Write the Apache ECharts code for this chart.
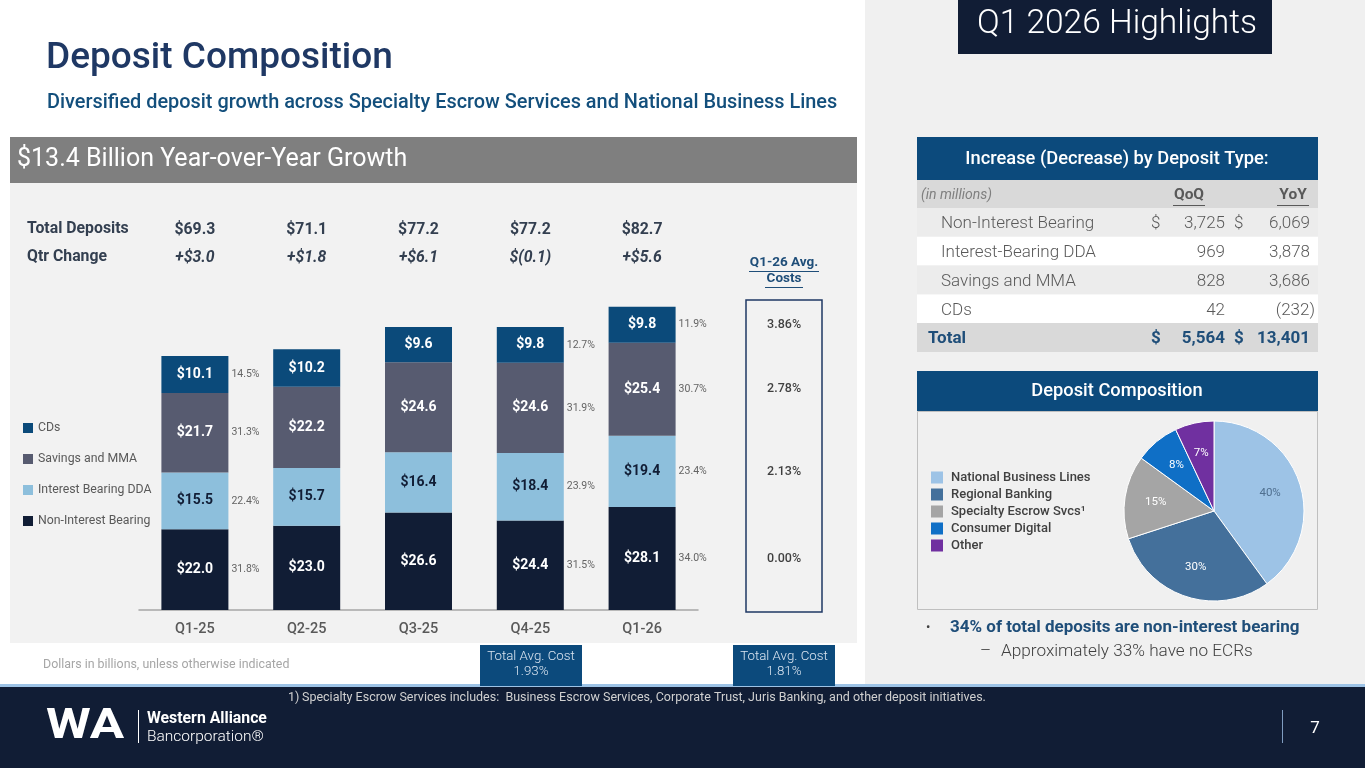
<!DOCTYPE html>
<html>
<head>
<meta charset="utf-8">
<script src="https://cdn.jsdelivr.net/npm/echarts@6/dist/echarts.min.js"></script>
<style>
html,body{margin:0;padding:0;background:#fff;}
#main{width:1365px;height:768px;}
</style>
</head>
<body>
<div id="main"></div>
<script>
// 季度存款构成 (十亿美元)
const quarters = ['Q1-25', 'Q2-25', 'Q3-25', 'Q4-25', 'Q1-26'];
const nonInterest = [22.0, 23.0, 26.6, 24.4, 28.1];
const interestDDA = [15.5, 15.7, 16.4, 18.4, 19.4];
const savingsMMA = [21.7, 22.2, 24.6, 24.6, 25.4];
const cds = [10.1, 10.2, 9.6, 9.8, 9.8];
const totalDeposits = ['$69.3', '$71.1', '$77.2', '$77.2', '$82.7'];
const qtrChange = ['+$3.0', '+$1.8', '+$6.1', '$(0.1)', '+$5.6'];
// 占比，只在 Q1-25 / Q4-25 / Q1-26 显示
const pctNonInterest = ['31.8%', '', '', '31.5%', '34.0%'];
const pctDDA = ['22.4%', '', '', '23.9%', '23.4%'];
const pctSavings = ['31.3%', '', '', '31.9%', '30.7%'];
const pctCDs = ['14.5%', '', '', '12.7%', '11.9%'];
// Q1-26 平均成本，顺序同堆叠 (自下而上)
const avgCost = ['0.00%', '2.13%', '2.78%', '3.86%'];

// 右侧表格 (百万美元)
const tableRows = ['Non-Interest Bearing', 'Interest-Bearing DDA', 'Savings and MMA', 'CDs'];
const qoq = [3725, 969, 828, 42];
const yoy = [6069, 3878, 3686, -232];
const qoqTotal = 5564;
const yoyTotal = 13401;

// 饼图
const segNames = ['National Business Lines', 'Regional Banking', 'Specialty Escrow Svcs\u00b9', 'Consumer Digital', 'Other'];
const segShare = [40, 30, 15, 8, 7];

const FONT = 'Roboto, "Noto Sans", sans-serif';
const NAVY = '#111d35';
const BLUE = '#0c4a7c';

const stacks = [nonInterest, interestDDA, savingsMMA, cds];
const pcts = [pctNonInterest, pctDDA, pctSavings, pctCDs];
//每段中点，用于放置旁边的百分比
const mid = (s, i) => {
    let base = 0;
    for (let k = 0; k < s; k++) base += stacks[k][i];
    return base + stacks[s][i] / 2;
};
const fmt = n => n < 0 ? '(' + Math.abs(n).toLocaleString('en-US') + ')' : n.toLocaleString('en-US');

const txt = (x, y, text, o = {}) => ({
    type: 'text',
    z: o.z || 5,
    style: {
        x: x, y: y, text: text,
        fill: o.color || '#404040',
        fontSize: o.size || 14,
        fontWeight: o.weight || 'normal',
        fontStyle: o.italic ? 'italic' : 'normal',
        fontFamily: FONT,
        textAlign: o.align || 'left',
        textVerticalAlign: 'middle'
    }
});
const rect = (x, y, w, h, fill, o = {}) => ({
    type: 'rect',
    z: o.z || 0,
    shape: {x: x, y: y, width: w, height: h},
    style: {fill: fill, stroke: o.stroke || null, lineWidth: o.lw || 0}
});
const line = (x1, y1, x2, y2, color, w) => ({
    type: 'line',
    z: 5,
    shape: {x1: x1, y1: y1, x2: x2, y2: y2},
    style: {stroke: color, lineWidth: w || 1}
});

let g = [];
/*背景和标题*/
g.push(rect(865, 0, 500, 685, '#f0f0f0'));
g.push(txt(46, 59, 'Deposit Composition', {size: 37, weight: 500, color: '#1f3864'}));
g.push(txt(47, 103, 'Diversified deposit growth across Specialty Escrow Services and National Business Lines', {size: 19.9, weight: 500, color: '#134f7c'}));
g.push(rect(958, 0, 314, 54, NAVY));
g.push(txt(1117, 25, 'Q1 2026 Highlights', {size: 33.5, weight: 300, color: '#fff', align: 'center'}));

/*左侧面板*/
g.push(rect(10, 137, 847, 46, '#7f7f7f'));
g.push(txt(17, 160, '$13.4 Billion Year-over-Year Growth', {size: 25, color: '#fff'}));
g.push(rect(10, 183, 847, 460, '#f2f2f2'));
g.push(txt(27, 229, 'Total Deposits', {size: 15.8, weight: 'bold', color: '#333f50'}));
g.push(txt(27, 257, 'Qtr Change', {size: 15.8, weight: 'bold', color: '#333f50'}));
g.push(txt(784, 263, 'Q1-26 Avg.', {size: 13.5, weight: 'bold', color: '#1f4e79', align: 'center'}));
g.push(txt(784, 279, 'Costs', {size: 13.5, weight: 'bold', color: '#1f4e79', align: 'center'}));
g.push(line(749, 271.5, 819, 271.5, '#1f4e79', 1));
g.push(line(765, 287.5, 803, 287.5, '#1f4e79', 1));
g.push(rect(746, 300, 76, 312, 'none', {stroke: '#1f3864', lw: 1.5, z: 3}));
g.push(txt(43, 665, 'Dollars in billions, unless otherwise indicated', {size: 12.4, color: '#a6a6a6'}));

/*页脚*/
g.push(rect(0, 684, 1365, 3, '#9dc3e6'));
g.push(rect(0, 687, 1365, 81, NAVY));
[[480, '1.93%'], [733, '1.81%']].forEach(b => {
    g.push(rect(b[0], 645, 102, 41, BLUE, {z: 2}));
    g.push(txt(b[0] + 51, 657, 'Total Avg. Cost', {size: 13.3, weight: 300, color: '#dbe5f1', align: 'center'}));
    g.push(txt(b[0] + 51, 672, b[1], {size: 13.3, weight: 300, color: '#dbe5f1', align: 'center'}));
});
g.push(txt(288, 698, '1)', {size: 12.5, color: '#d0d0d0'}));
g.push(txt(302, 698, 'Specialty Escrow Services includes:  Business Escrow Services, Corporate Trust, Juris Banking, and other deposit initiatives.', {size: 12.5, color: '#d0d0d0'}));
let logo = txt(46, 727, 'WA', {size: 42, weight: 'bold', color: '#fff'});
logo.scaleX = 1.22;
logo.originX = 46;
g.push(logo);
g.push(line(138.5, 710, 138.5, 743, '#fff', 1));
g.push(txt(147, 719, 'Western Alliance', {size: 15.8, weight: 'bold', color: '#fff'}));
g.push(txt(147, 737, 'Bancorporation\u00ae', {size: 15.5, weight: 300, color: '#fff'}));
g.push(line(1282.5, 710, 1282.5, 743, '#7f9cc0', 1));
g.push(txt(1315, 729, '7', {size: 17, color: '#fff', align: 'center'}));

/*右侧表格*/
g.push(rect(917, 137, 401, 43, BLUE));
g.push(txt(1117, 159, 'Increase (Decrease) by Deposit Type:', {size: 18.3, weight: 500, color: '#fff', align: 'center'}));
g.push(rect(917, 180, 401, 28, '#d9d9d9'));
g.push(txt(921, 195, '(in millions)', {size: 14, italic: true, color: '#7f7f7f'}));
g.push(txt(1189, 195, 'QoQ', {size: 15.5, weight: 'bold', color: '#595959', align: 'center'}));
g.push(txt(1293, 195, 'YoY', {size: 15.5, weight: 'bold', color: '#595959', align: 'center'}));
g.push(line(1173, 205.5, 1205, 205.5, '#595959', 1));
g.push(line(1277, 205.5, 1309, 205.5, '#595959', 1));
tableRows.forEach((name, i) => {
    let y0 = 208 + i * 28.8;
    g.push(rect(917, y0, 401, 28.8, i % 2 ? '#ffffff' : '#ececec'));
    let yc = y0 + 16;
    g.push(txt(941, yc, name, {size: 17, weight: 300, color: '#595959'}));
    if (i === 0) {
        g.push(txt(1151, yc, '$', {size: 17, weight: 300, color: '#595959'}));
        g.push(txt(1234, yc, '$', {size: 17, weight: 300, color: '#595959'}));
    }
    g.push(txt(1225, yc, fmt(qoq[i]), {size: 17, weight: 300, color: '#595959', align: 'right'}));
    g.push(txt(yoy[i] < 0 ? 1315 : 1310, yc, fmt(yoy[i]), {size: 17, weight: 300, color: '#595959', align: 'right'}));
});
g.push(rect(917, 323, 401, 29, '#d9d9d9'));
g.push(txt(928, 339, 'Total', {size: 17, weight: 'bold', color: '#1f4e79'}));
g.push(txt(1151, 339, '$', {size: 17, weight: 'bold', color: '#1f4e79'}));
g.push(txt(1225, 339, fmt(qoqTotal), {size: 17, weight: 'bold', color: '#1f4e79', align: 'right'}));
g.push(txt(1234, 339, '$', {size: 17, weight: 'bold', color: '#1f4e79'}));
g.push(txt(1310, 339, fmt(yoyTotal), {size: 17, weight: 'bold', color: '#1f4e79', align: 'right'}));

/*饼图面板*/
g.push(rect(917, 371, 401, 40, BLUE));
g.push(txt(1117, 391, 'Deposit Composition', {size: 18.3, weight: 500, color: '#fff', align: 'center'}));
g.push(rect(917.5, 411.5, 400, 198, '#f0f0f0', {stroke: '#bfbfbf', lw: 1}));
g.push(txt(926, 628, '\u2022', {size: 13, color: '#404040'}));
g.push(txt(950, 628, '34% of total deposits are non-interest bearing', {size: 17, weight: 'bold', color: '#1f4e79'}));
g.push(txt(980, 652, '\u2013', {size: 17, weight: 300, color: '#404040'}));
g.push(txt(1001, 652, 'Approximately 33% have no ECRs', {size: 17.2, weight: 300, color: '#404040'}));

const segColors = [NAVY, '#8dbfdc', '#575b70', '#0b4a7a'];
const segLabels = ['Non-Interest Bearing', 'Interest Bearing DDA', 'Savings and MMA', 'CDs'];
const labelColors = ['#fff', NAVY, '#fff', '#fff'];

let series = stacks.map((arr, s) => ({
    name: segLabels[s],
    type: 'bar',
    stack: 'dep',
    barWidth: 67,
    data: arr,
    itemStyle: {color: segColors[s]},
    label: {
        show: true,
        position: 'inside',
        formatter: p => '$' + p.value.toFixed(1),
        color: labelColors[s],
        fontSize: 14,
        fontWeight: 'bold',
        fontFamily: FONT
    }
}));
//柱子右侧的占比
series.push({
    type: 'scatter',
    silent: true,
    symbolSize: 1,
    itemStyle: {color: 'transparent'},
    data: [].concat(...pcts.map((arr, s) => arr.map((p, i) => ({value: [i, mid(s, i)], pct: p})).filter(d => d.pct))),
    label: {
        show: true,
        position: 'right',
        distance: 36,
        formatter: p => p.data.pct,
        fontSize: 10.5,
        color: '#404040',
        fontFamily: FONT
    }
});
//Q1-26 平均成本
series.push({
    type: 'scatter',
    silent: true,
    symbolSize: 1,
    itemStyle: {color: 'transparent'},
    data: avgCost.map((c, s) => ({value: [4, mid(s, 4)], cost: c})),
    label: {
        show: true,
        position: 'inside',
        offset: [142, 0],
        formatter: p => p.data.cost,
        fontSize: 12.5,
        fontWeight: 500,
        color: '#111',
        fontFamily: FONT
    }
});
const pieData = segNames.map((n, i) => ({name: n, value: segShare[i]}));
series.push({
    name: 'composition',
    type: 'pie',
    center: [1214, 511],
    radius: 90,
    startAngle: 90,
    data: pieData,
    color: ['#9dc3e6', '#44709b', '#a5a5a5', '#0f6fc6', '#7030a0'],
    itemStyle: {borderColor: '#fff', borderWidth: 1},
    label: {show: false},
    labelLine: {show: false}
});
//只放标签的透明饼，使百分比离圆心更远
series.push({
    type: 'pie',
    silent: true,
    center: [1214, 511],
    radius: 112,
    startAngle: 90,
    data: pieData.map((d, i) => ({
        name: d.name, value: d.value,
        label: {color: i === 0 ? '#4f6f8f' : '#fff'}
    })),
    itemStyle: {color: 'transparent'},
    label: {position: 'inside', formatter: '{c}%', fontSize: 11.5, fontFamily: FONT},
    labelLine: {show: false}
});

let option = {
    animation: false,
    backgroundColor: '#fff',
    textStyle: {fontFamily: FONT},
    graphic: g,
    legend: [{
        orient: 'vertical',
        left: 18,
        top: 417,
        itemWidth: 10,
        itemHeight: 10,
        itemGap: 19,
        icon: 'rect',
        data: ['CDs', 'Savings and MMA', 'Interest Bearing DDA', 'Non-Interest Bearing'],
        textStyle: {fontSize: 12.3, color: '#595959', lineHeight: 12, fontFamily: FONT}
    }, {
        orient: 'vertical',
        left: 926,
        top: 466,
        itemWidth: 12,
        itemHeight: 12,
        itemGap: 4,
        itemStyle: {borderWidth: 0},
        icon: 'rect',
        data: segNames,
        textStyle: {fontSize: 13, fontWeight: 500, color: '#404040', lineHeight: 12, padding: [0, 0, 0, 3], fontFamily: FONT}
    }],
    grid: {left: 139, top: 280, width: 559, height: 330},
    xAxis: [{
        type: 'category',
        data: quarters,
        axisLine: {lineStyle: {color: '#a6a6a6', width: 1.5}},
        axisTick: {show: false},
        axisLabel: {fontSize: 14.5, fontWeight: 500, color: '#595959', margin: 12, fontFamily: FONT}
    }, {
        type: 'category',
        position: 'top',
        data: quarters,
        axisLine: {show: false},
        axisTick: {show: false},
        axisLabel: {
            margin: 8,
            formatter: (v, i) => '{t|' + totalDeposits[i] + '}\n{c|' + qtrChange[i] + '}',
            rich: {
                t: {fontSize: 15.8, fontWeight: 'bold', color: '#333f50', lineHeight: 28, fontFamily: FONT},
                c: {fontSize: 15.8, fontWeight: 'bold', fontStyle: 'italic', color: '#333f50', lineHeight: 28, fontFamily: FONT}
            }
        }
    }],
    yAxis: {type: 'value', min: 0, max: 90, show: false},
    series: series
};

let chart = echarts.init(document.getElementById('main'));
chart.setOption(option);
</script>
</body>
</html>
